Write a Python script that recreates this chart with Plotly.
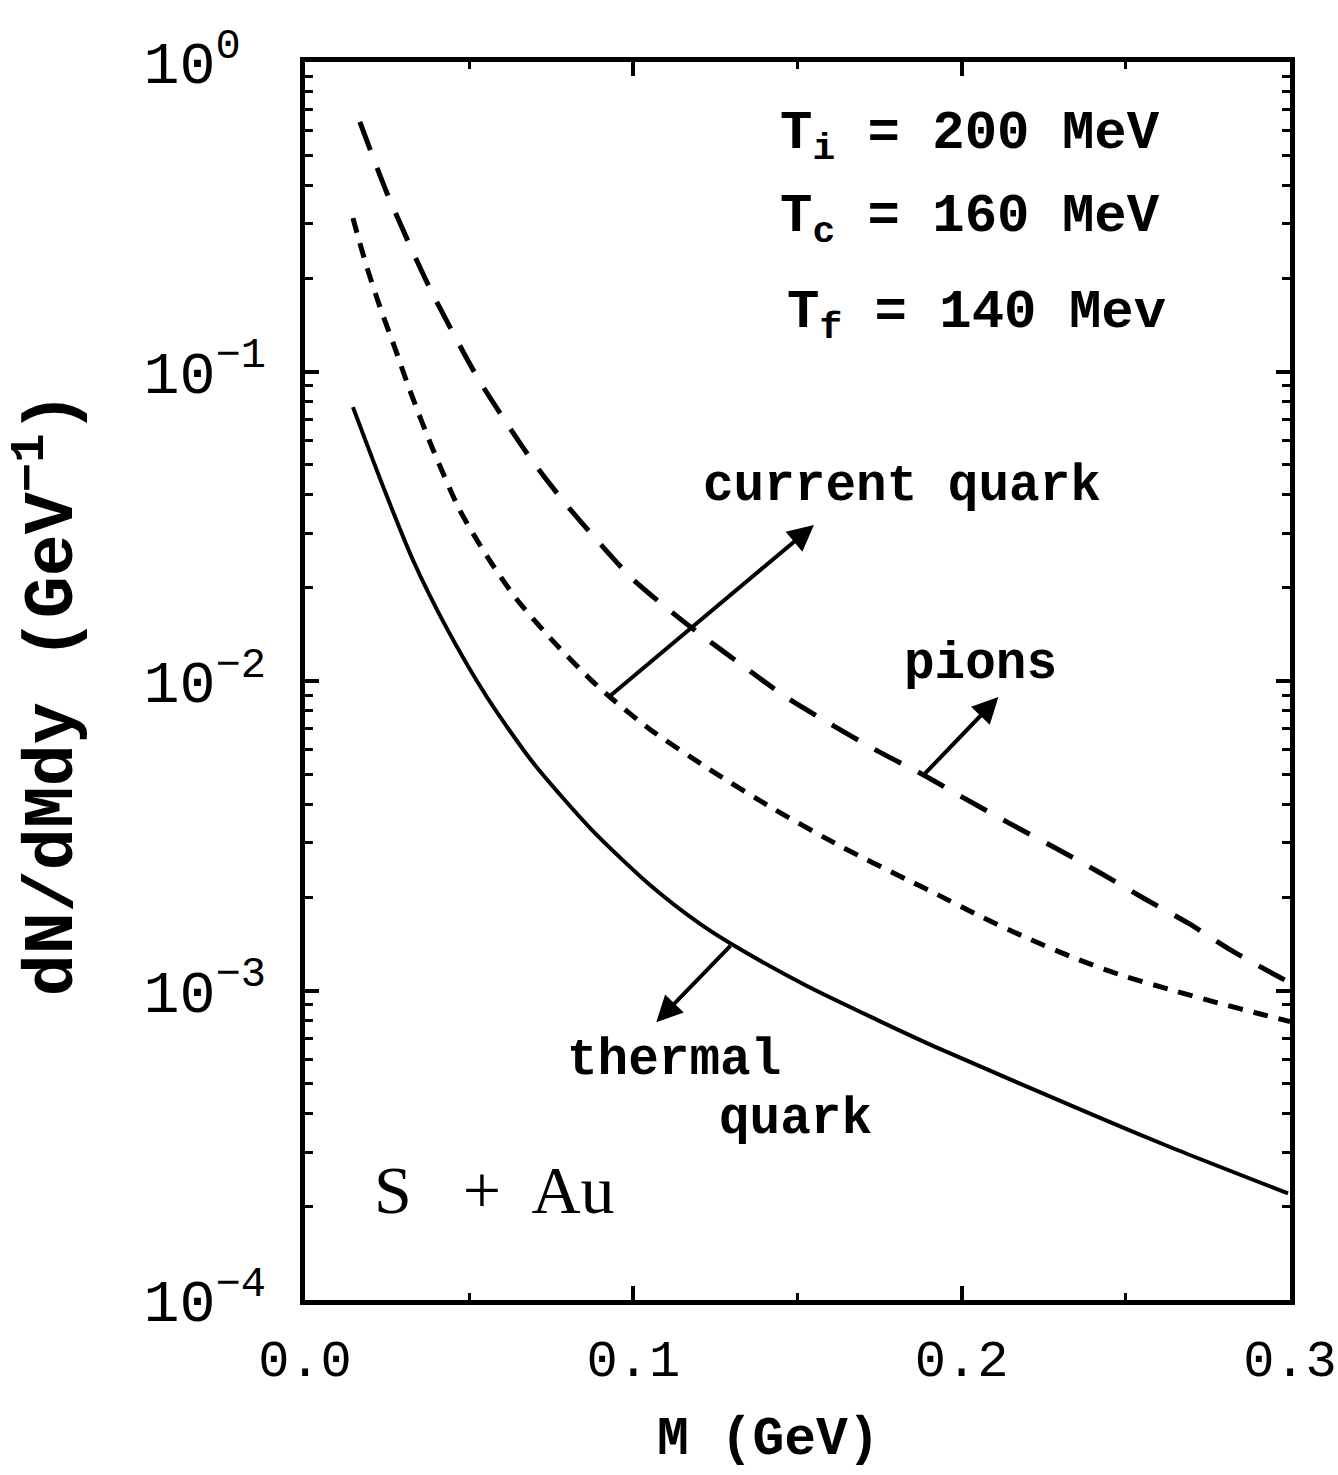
import math
import plotly.graph_objects as go

# ---- data ----
pions_x = [0.0167, 0.0252, 0.038, 0.0526, 0.0608, 0.0693, 0.0796, 0.0897, 0.0997, 0.112, 0.118,
           0.133, 0.1465, 0.1596, 0.1739, 0.1884, 0.2006, 0.2143, 0.228, 0.2416, 0.2553, 0.269,
           0.282, 0.2957, 0.3]
pions_y = [0.640, 0.372, 0.186, 0.0953, 0.0697, 0.0513, 0.0371, 0.0279, 0.0214, 0.0166, 0.01479,
           0.01127, 0.00887, 0.00731, 0.00598, 0.00497, 0.00419, 0.00348, 0.00291, 0.00242, 0.00199,
           0.00165, 0.00135, 0.00112, 0.00106]

current_x = [0.0146, 0.0167, 0.0191, 0.0228, 0.0274, 0.0319, 0.0389, 0.0471, 0.0553, 0.0644, 0.0754,
             0.0866, 0.0927, 0.1049, 0.1231, 0.1422, 0.1635, 0.183, 0.1915, 0.205, 0.2198, 0.2346,
             0.2487, 0.2638, 0.278, 0.2924, 0.3]
current_y = [0.313, 0.260, 0.213, 0.162, 0.119, 0.0871, 0.0562, 0.0357, 0.0254, 0.0184, 0.0135,
             0.0102, 0.00891, 0.0070, 0.00519, 0.00389, 0.00291, 0.00229, 0.00207, 0.00175, 0.00148,
             0.00127, 0.00112, 0.001005, 0.000912, 0.000832, 0.000794]

thermal_x = [0.0146, 0.0237, 0.0328, 0.0432, 0.0553, 0.0693, 0.0875, 0.1049, 0.120, 0.130, 0.1526,
             0.1739, 0.193, 0.2416, 0.2638, 0.2994]
thermal_y = [0.0767, 0.0427, 0.0247, 0.01479, 0.00891, 0.00547, 0.00329, 0.0022, 0.00165, 0.00141,
             0.001038, 0.000807, 0.00065, 0.00039, 0.000311, 0.000221]

x_ticks = [0.0, 0.1, 0.2, 0.3]
x_ticklabels = ["0.0", "0.1", "0.2", "0.3"]
y_ticks = [1, 0.1, 0.01, 0.001, 0.0001]
y_ticklabels = ["10<sup>0&nbsp;</sup>", "10<sup>\u22121</sup>", "10<sup>\u22122</sup>",
                "10<sup>\u22123</sup>", "10<sup>\u22124</sup>"]

MONO = "Liberation Mono"
L = math.log10

fig = go.Figure()
fig.add_trace(go.Scatter(x=pions_x, y=pions_y, mode="lines", name="pions",
                         line=dict(color="black", width=5, dash="30px,19px", shape="spline", smoothing=0.7)))
fig.add_trace(go.Scatter(x=current_x, y=current_y, mode="lines", name="current quark",
                         line=dict(color="black", width=5, dash="15px,11px", shape="spline", smoothing=0.7)))
fig.add_trace(go.Scatter(x=thermal_x, y=thermal_y, mode="lines", name="thermal quark",
                         line=dict(color="black", width=4, shape="spline", smoothing=0.7)))


def arrow(x0, y0, x1, y1):
    # tail (x0,y0) -> head (x1,y1)
    fig.add_annotation(x=x1, y=L(y1), ax=x0, ay=L(y0), xref="x", yref="y", axref="x", ayref="y",
                       text="", showarrow=True, arrowhead=2, arrowsize=1.3, arrowwidth=4,
                       arrowcolor="black", standoff=0, startstandoff=0)


arrow(0.0927, 0.00891, 0.155, 0.0319)    # current quark
arrow(0.1884, 0.00497, 0.2112, 0.00887)  # pions
arrow(0.130, 0.00141, 0.107, 0.00079)    # thermal quark


def label(x, y, text, size=51, font=MONO, bold=True, anchor="center"):
    t = f"<b>{text}</b>" if bold else text
    fig.add_annotation(x=x, y=L(y), xref="x", yref="y", text=t, showarrow=False,
                       xanchor=anchor, yanchor="middle",
                       font=dict(family=font, size=size, color="black"))


label(0.1818, 0.0424, "current quark")
label(0.2058, 0.01127, "pions")
label(0.1125, 0.000596, "thermal")
label(0.1495, 0.000382, "quark")
label(0.0578, 0.000226, "S &nbsp;&nbsp;+&nbsp; Au", size=68, font="Liberation Serif", bold=False)

label(0.1440, 0.574, "T<sub>i</sub> = 200 MeV", size=54, anchor="left")
label(0.1440, 0.310, "T<sub>c</sub> = 160 MeV", size=54, anchor="left")
label(0.1462, 0.152, "T<sub>f</sub> = 140 Mev", size=54, anchor="left")

# axis titles placed as paper annotations to match the reference offsets
fig.add_annotation(x=0.471, y=-0.113, xref="paper", yref="paper", text="<b>M (GeV)</b>",
                   showarrow=False, xanchor="center", yanchor="middle",
                   font=dict(family=MONO, size=53, color="black"))
fig.add_annotation(x=-0.262, y=0.49, xref="paper", yref="paper",
                   text="<b>dN/dMdy (GeV<sup>\u22121</sup>)</b>", textangle=-90,
                   showarrow=False, xanchor="center", yanchor="middle",
                   font=dict(family=MONO, size=70, color="black"))

fig.update_layout(
    width=1338, height=1475, autosize=False,
    margin=dict(l=305, r=48, t=62, b=175, autoexpand=False),
    paper_bgcolor="white", plot_bgcolor="white",
    showlegend=False,
    font=dict(family=MONO, color="black"),
)
fig.update_xaxes(
    range=[0, 0.3], tickvals=x_ticks, ticktext=x_ticklabels, automargin=False,
    showline=True, linewidth=5, linecolor="black", mirror="allticks",
    ticks="inside", ticklen=14, tickwidth=4, tickcolor="black",
    minor=dict(ticks="inside", ticklen=7, tickwidth=3, dtick=0.05, tickcolor="black", showgrid=False),
    showgrid=False, zeroline=False, ticklabeloverflow="allow",
    tickfont=dict(family=MONO, size=52, color="black"), ticklabelstandoff=9,
)
fig.update_yaxes(
    type="log", range=[-4, 0], tickvals=y_ticks, ticktext=y_ticklabels, automargin=False,
    showline=True, linewidth=5, linecolor="black", mirror="allticks",
    ticks="inside", ticklen=14, tickwidth=4, tickcolor="black",
    minor=dict(ticks="inside", ticklen=8, tickwidth=3, dtick="D1", tickcolor="black", showgrid=False),
    showgrid=False, zeroline=False, ticklabeloverflow="allow",
    tickfont=dict(family=MONO, size=60, color="black"), ticklabelstandoff=22,
)

fig.write_html("out.html")
